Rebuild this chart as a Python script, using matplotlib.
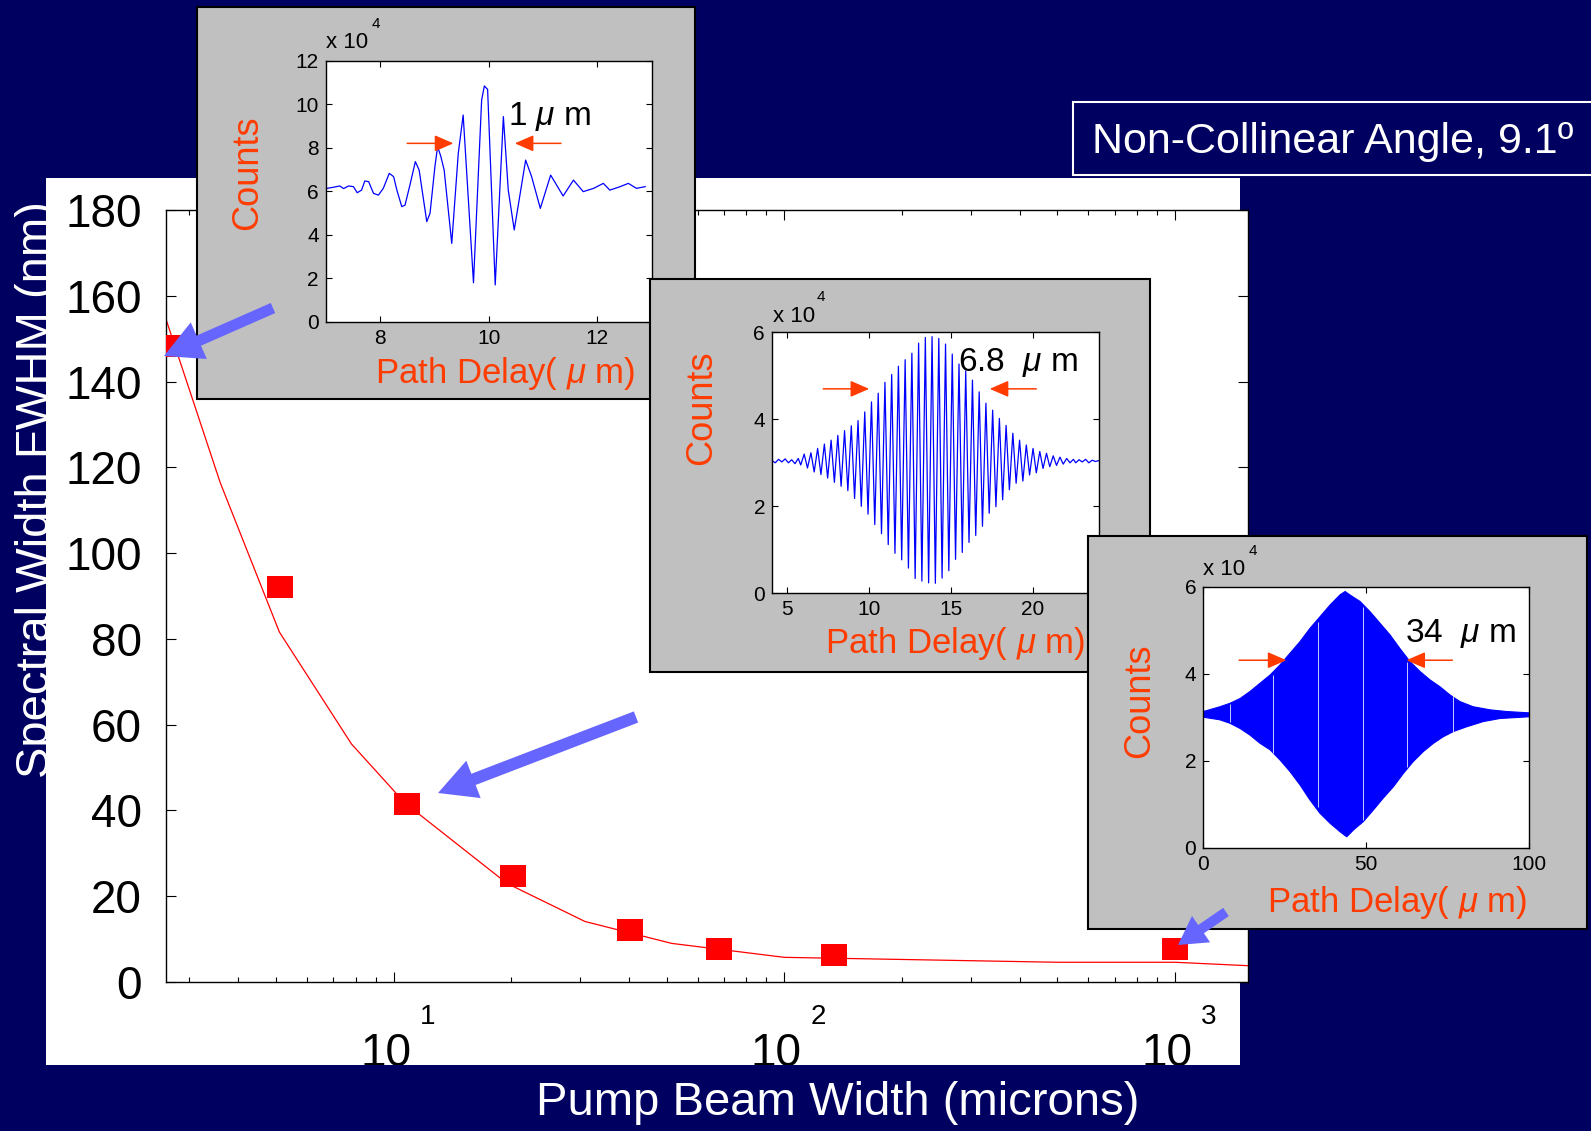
import matplotlib
matplotlib.use("Agg")
import matplotlib.pyplot as plt
from matplotlib.patches import Rectangle, FancyArrowPatch
from matplotlib.path import Path
from matplotlib.ticker import LogLocator, NullFormatter
import matplotlib.transforms as mtransforms

plt.rcParams['font.family'] = ['Liberation Sans', 'DejaVu Sans']
plt.rcParams['mathtext.fontset'] = 'custom'
plt.rcParams['mathtext.rm'] = 'Liberation Sans'
plt.rcParams['mathtext.it'] = 'Liberation Sans:italic'

# ---------------- main chart data ----------------
beam_width_um = [2.68, 5.12, 10.8, 20.2, 40.3, 68.1, 134, 1000]
spectral_fwhm_nm = [148.3, 92.2, 41.4, 24.6, 12.1, 7.7, 6.3, 7.8]
fit_width_um = [2.6, 3.6, 5.1, 7.8, 10.7, 19.5, 30.9, 51.5, 100, 500, 1000, 1540]
fit_fwhm_nm = [155.2, 116.4, 81.6, 55.5, 41.7, 23.0, 14.1, 9.0, 5.75, 4.6, 4.6, 3.8]
y_ticks = [0, 20, 40, 60, 80, 100, 120, 140, 160, 180]
x_decades = [10, 100, 1000]
x_decade_exponents = ['1', '2', '3']

# ---------------- inset 1 (1 um) ----------------
delay1 = [7.02, 7.14, 7.26, 7.33, 7.42, 7.51, 7.58, 7.66, 7.72, 7.79, 7.88, 7.97, 8.06, 8.17,
          8.25, 8.31, 8.40, 8.46, 8.55, 8.65, 8.72, 8.86, 8.92, 9.01, 9.06, 9.12, 9.18, 9.32,
          9.44, 9.53, 9.72, 9.87, 9.92, 9.98, 10.12, 10.27, 10.36, 10.47, 10.68, 10.79, 10.95,
          11.14, 11.25, 11.37, 11.56, 11.74, 11.93, 12.11, 12.23, 12.42, 12.57, 12.72, 12.88]
counts1 = [6.13, 6.18, 6.24, 6.12, 6.24, 6.21, 5.93, 6.05, 6.47, 6.44, 5.90, 5.82, 6.13, 6.82,
           6.67, 6.05, 5.29, 5.36, 6.28, 7.36, 6.97, 4.60, 4.98, 7.13, 8.05, 7.59, 6.97, 3.60,
           7.74, 9.50, 1.79, 10.19, 10.84, 10.68, 1.69, 9.43, 6.05, 4.22, 7.43, 6.67, 5.21,
           6.74, 6.28, 5.78, 6.51, 5.98, 6.13, 6.36, 6.05, 6.21, 6.36, 6.13, 6.21]

# ---------------- inset 2 (6.8 um) ----------------
delay2 = [4.1, 4.3, 4.5, 4.7, 4.9, 5.1, 5.3, 5.5, 5.7,
          5.85, 6.06, 6.26, 6.47, 6.67, 6.88, 7.08, 7.29, 7.49, 7.70, 7.90, 8.11, 8.31, 8.52,
          8.72, 8.93, 9.13, 9.34, 9.54, 9.75, 9.95, 10.16, 10.36, 10.57, 10.77, 10.98, 11.18,
          11.39, 11.59, 11.80, 12.00, 12.21, 12.41, 12.62, 12.82, 13.03, 13.23, 13.44, 13.64,
          13.85, 14.05, 14.26, 14.46, 14.67, 14.87, 15.08, 15.28, 15.49, 15.69, 15.90, 16.10,
          16.31, 16.51, 16.72, 16.92, 17.13, 17.33, 17.54, 17.74, 17.95, 18.15, 18.36, 18.56,
          18.77, 18.97, 19.18, 19.38, 19.59, 19.79, 20.00, 20.20, 20.41, 20.61, 20.82, 21.02,
          21.23, 21.43, 21.64, 21.84, 22.05, 22.25, 22.46,
          22.6, 22.8, 23.0, 23.2, 23.4, 23.6, 23.8, 24.0]
counts2 = [3.05, 3.00, 3.08, 3.02, 3.09, 3.00, 3.07, 2.98, 3.10,
           2.95, 3.20, 2.88, 3.23, 2.79, 3.33, 2.73, 3.43, 2.65, 3.52, 2.55, 3.63, 2.46, 3.74,
           2.36, 3.85, 2.18, 3.97, 2.00, 4.17, 1.82, 4.40, 1.58, 4.60, 1.37, 4.85, 1.12,
           5.03, 0.92, 5.22, 0.77, 5.37, 0.58, 5.52, 0.34, 5.75, 0.28, 5.88, 0.24,
           5.90, 0.23, 5.86, 0.35, 5.73, 0.52, 5.50, 0.78, 5.27, 0.94, 5.11, 1.17,
           4.90, 1.33, 4.63, 1.54, 4.37, 1.84, 4.21, 1.99, 4.02, 2.15, 3.86, 2.38,
           3.68, 2.53, 3.52, 2.58, 3.41, 2.72, 3.33, 2.77, 3.26, 2.87, 3.22, 2.91,
           3.16, 2.94, 3.13, 2.97, 3.10, 3.00, 3.08,
           3.00, 3.07, 3.02, 3.08, 3.00, 3.06, 3.03, 3.05]

# ---------------- inset 3 (34 um) : envelope of dense fringes ----------------
delay3_upper = [0, 5.1, 8.2, 11.3, 14.3, 17.4, 20.5, 23.5, 26.6, 29.7, 32.7, 35.8, 38.9, 41.9,
                43.5, 45.0, 48.1, 51.1, 54.2, 57.3, 60.3, 63.4, 66.5, 69.5, 72.6, 75.7, 78.7,
                82.8, 87.9, 93.1, 100]
upper3 = [3.13, 3.24, 3.32, 3.43, 3.59, 3.78, 3.97, 4.20, 4.47, 4.74, 5.04, 5.31, 5.58, 5.81,
          5.89, 5.81, 5.66, 5.43, 5.16, 4.89, 4.58, 4.28, 4.05, 3.86, 3.70, 3.51, 3.36,
          3.24, 3.17, 3.13, 3.10]
delay3_lower = [0, 5.1, 8.2, 11.3, 14.3, 17.4, 20.5, 23.5, 26.6, 29.7, 32.7, 35.8, 38.9, 41.9,
                44.0, 46.1, 49.1, 52.2, 55.2, 58.3, 61.4, 64.4, 67.5, 70.6, 73.6, 76.7, 80.8,
                85.9, 91.0, 100]
lower3 = [3.00, 2.94, 2.86, 2.74, 2.59, 2.40, 2.25, 2.02, 1.75, 1.44, 1.10, 0.79, 0.56, 0.37,
          0.25, 0.41, 0.60, 0.87, 1.14, 1.40, 1.71, 1.98, 2.21, 2.40, 2.55, 2.67, 2.78,
          2.90, 2.97, 3.01]
streak3_x = [8.2, 21.5, 35.3, 49.1, 62.6, 76.7]
streak3_lo = [2.88, 2.17, 0.93, 0.64, 1.86, 2.67]
streak3_hi = [3.30, 3.97, 5.18, 5.54, 4.28, 3.51]

# ---------------- styling ----------------
NAVY = '#000060'
GRAY = '#C0C0C0'
ORANGE = '#FF3C00'
BLUE = '#0000FF'
ARROW_BLUE = '#6666FF'
W, H = 1591, 1131

fig = plt.figure(figsize=(W / 100, H / 100), dpi=100, facecolor=NAVY)


def fx(x):
    return x / W


def fy(y):
    return 1 - y / H


def rect_px(x0, y0, x1, y1):
    return [x0 / W, 1 - y1 / H, (x1 - x0) / W, (y1 - y0) / H]


def add_box(x0, y0, x1, y1, zorder, **kw):
    r = Rectangle((x0 / W, 1 - y1 / H), (x1 - x0) / W, (y1 - y0) / H,
                  transform=fig.transFigure, zorder=zorder, **kw)
    fig.add_artist(r)
    return r


# white slide panel and bottom navy band
add_box(45.7, 177.6, 1240, 1065, 0.5, facecolor='white', edgecolor='none')
add_box(0, 1065, W, H + 5, 1.5, facecolor=NAVY, edgecolor='none')

# y label (white, partly hidden by panel)
fig.text(fx(49), fy(490), 'Spectral Width FWHM (nm)', rotation=90, rotation_mode='anchor',
         ha='center', va='baseline', color='white', fontsize=34, zorder=0.2)
# x label
fig.text(fx(838), fy(1115), 'Pump Beam Width (microns)', color='white', fontsize=34,
         ha='center', va='baseline', zorder=5)

# title box
add_box(1073, 102, W + 10, 175, 2, facecolor=NAVY, edgecolor='white', linewidth=1.5)
fig.text(fx(1092), fy(152.7), 'Non-Collinear Angle, 9.1\u00ba', color='white', fontsize=31,
         ha='left', va='baseline', zorder=2.1)

# ---------------- main axes ----------------
ax = fig.add_axes(rect_px(165.7, 210, 1248, 982), zorder=1)
ax.set_facecolor('white')
ax.set_xscale('log')
ax.plot(fit_width_um, fit_fwhm_nm, color='#FF0000', lw=0.9, zorder=2)
rect_marker = Path([(-1, -0.85), (1, -0.85), (1, 0.85), (-1, 0.85), (-1, -0.85)],
                   [Path.MOVETO, Path.LINETO, Path.LINETO, Path.LINETO, Path.CLOSEPOLY])
ax.plot(beam_width_um, spectral_fwhm_nm, linestyle='none', marker=rect_marker,
        markersize=19.4, color='#FF0000', markeredgewidth=0, zorder=3)
ax.set_xlim(2.61, 1537)
ax.set_ylim(0, 180)
ax.set_yticks(y_ticks)
ax.set_xticks(x_decades)
ax.xaxis.set_minor_locator(LogLocator(base=10, subs=range(2, 10)))
ax.xaxis.set_minor_formatter(NullFormatter())
ax.tick_params(axis='both', which='both', direction='in', top=True, right=True)
ax.tick_params(which='major', length=7.5, width=0.8)
ax.tick_params(which='minor', length=3.8, width=0.8)
ax.tick_params(axis='x', labelbottom=False)
ax.tick_params(axis='y', labelsize=33, pad=17)
for s in ax.spines.values():
    s.set_linewidth(1.0)

for v, e in zip(x_decades, x_decade_exponents):
    t1 = mtransforms.offset_copy(ax.get_xaxis_transform(), fig=fig, x=-8, y=-(1066 - 982), units='dots')
    ax.text(v, 0, '10', transform=t1, ha='center', va='baseline', fontsize=33)
    t2 = mtransforms.offset_copy(ax.get_xaxis_transform(), fig=fig, x=26, y=-(1024 - 982), units='dots')
    ax.text(v, 0, e, transform=t2, ha='left', va='baseline', fontsize=20)


# ---------------- insets ----------------
def make_inset(gray_px, axes_px, z, xlim, ylim, xticks, yticks):
    add_box(*gray_px, zorder=z, facecolor=GRAY, edgecolor='black', linewidth=1.5)
    a = fig.add_axes(rect_px(*axes_px), zorder=z + 0.5)
    a.set_facecolor('white')
    a.set_xlim(xlim)
    a.set_ylim(ylim)
    a.set_xticks(xticks)
    a.set_yticks(yticks)
    a.tick_params(direction='in', top=True, right=True, length=4, width=0.8,
                  labelsize=15, pad=5)
    for s in a.spines.values():
        s.set_linewidth(1.0)
    return a


def inset_text(a, counts_xy, path_xy, x10_xy, exp_xy, note_xy, note):
    a.text(fx(counts_xy[0]), fy(counts_xy[1]), 'Counts', transform=fig.transFigure,
           rotation=90, rotation_mode='anchor', ha='center', va='baseline',
           color=ORANGE, fontsize=26)
    a.text(fx(path_xy[0]), fy(path_xy[1]), r'Path Delay( $\mu$ m)', transform=fig.transFigure,
           ha='center', va='baseline', color=ORANGE, fontsize=25)
    a.text(fx(x10_xy[0]), fy(x10_xy[1]), 'x 10', transform=fig.transFigure,
           ha='left', va='baseline', color='black', fontsize=16)
    a.text(fx(exp_xy[0]), fy(exp_xy[1]), '4', transform=fig.transFigure,
           ha='left', va='baseline', color='black', fontsize=11)
    a.text(fx(note_xy[0]), fy(note_xy[1]), note, transform=fig.transFigure,
           ha='left', va='baseline', color='black', fontsize=24)


def fwhm_arrows(a, y, pairs):
    for tail, tip in pairs:
        a.annotate('', xy=(tip, y), xytext=(tail, y),
                   arrowprops=dict(arrowstyle='-|>,head_length=1.15,head_width=0.5',
                                   mutation_scale=10, color=ORANGE, lw=1.1,
                                   shrinkA=0, shrinkB=0))


a1 = make_inset((196.7, 7.3, 695, 399), (325.7, 60.7, 651.7, 321.7), 2,
                (7, 13), (0, 12), [8, 10, 12], [0, 2, 4, 6, 8, 10, 12])
a1.plot(delay1, counts1, color=BLUE, lw=0.9)
inset_text(a1, (257, 172.5), (505.3, 383), (325.7, 48.3), (372, 28), (508.3, 125), r'1 $\mu$ m')
fwhm_arrows(a1, 8.2, [(8.50, 9.35), (11.33, 10.48)])

a2 = make_inset((650, 279.3, 1149.7, 671.7), (772, 332.3, 1098.7, 593.3), 4,
                (4.1, 24), (0, 6), [5, 10, 15, 20], [0, 2, 4, 6])
a2.plot(delay2, counts2, color=BLUE, lw=0.9)
inset_text(a2, (711, 407.5), (955, 653.3), (772.7, 322.3), (816.7, 300.7), (958, 370.7), r'6.8  $\mu$ m')
fwhm_arrows(a2, 4.70, [(7.22, 10.02), (20.2, 17.36)])

a3 = make_inset((1088.3, 535.7, 1587, 928.5), (1203.3, 586.7, 1529.3, 847.7), 6,
                (0, 100), (0, 6), [0, 50, 100], [0, 2, 4, 6])
a3.fill(delay3_upper + delay3_lower[::-1], upper3 + lower3[::-1], color=BLUE, lw=0.8)
a3.vlines(streak3_x, streak3_lo, streak3_hi, color='#E8E8FF', lw=0.6)
inset_text(a3, (1149, 700.8), (1397.3, 911.7), (1203.3, 575), (1248.3, 555), (1405, 641.7), r'34  $\mu$ m')
fwhm_arrows(a3, 4.31, [(11.0, 25.5), (76.4, 62.3)])

# ---------------- big pointer arrows (overlay, pixel coords) ----------------
ov = fig.add_axes([0, 0, 1, 1], zorder=20)
ov.set_xlim(0, W)
ov.set_ylim(H, 0)
ov.axis('off')
arrow_tails = [(273, 308), (636, 717), (1226, 912)]
arrow_tips = [(164, 356), (438, 793), (1178, 945)]
arrow_dims = [(38, 40, 11), (38, 40, 12), (28, 32, 10)]
for (tx, ty), (hx, hy), (hl, hw, tw) in zip(arrow_tails, arrow_tips, arrow_dims):
    ov.add_patch(FancyArrowPatch((tx, ty), (hx, hy),
                                 arrowstyle=f'simple,head_length={hl},head_width={hw},tail_width={tw}',
                                 mutation_scale=0.72, color=ARROW_BLUE, lw=0,
                                 shrinkA=0, shrinkB=0))

fig.savefig('out.png', dpi=100, facecolor=NAVY)
